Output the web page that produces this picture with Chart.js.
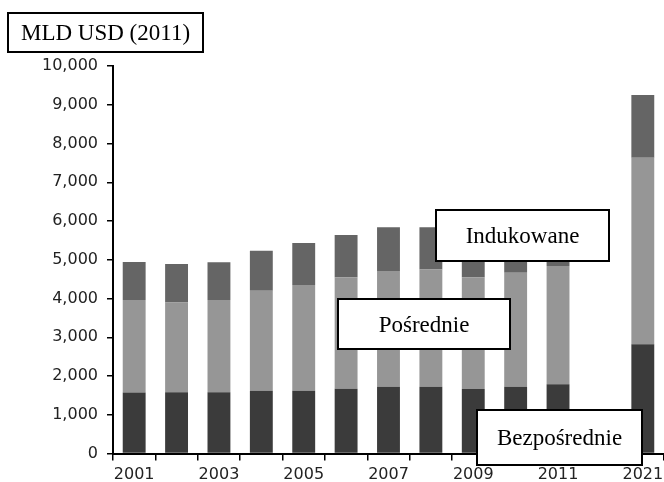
<!DOCTYPE html>
<html>
<head>
<meta charset="utf-8">
<script src="https://cdn.jsdelivr.net/npm/chart.js@4/dist/chart.umd.min.js"></script>
<style>
  body { margin: 0; background: #fff; }
  #wrap { width: 664px; height: 482px; }
</style>
</head>
<body>
<div id="wrap"><canvas id="mycanvas" width="664" height="482"></canvas></div>
<script>
// categories (one empty slot between 2011 and 2021)
var years = ['2001','2002','2003','2004','2005','2006','2007','2008','2009','2010','2011','','2021'];
var tickLabels = ['2001','','2003','','2005','','2007','','2009','','2011','','2021'];

// MLD USD (2011)
var bezposrednie = [1575, 1580, 1580, 1620, 1620, 1670, 1725, 1725, 1665, 1725, 1785, null, 2820];
var posrednie    = [2385, 2320, 2380, 2580, 2730, 2880, 2985, 3025, 2885, 2940, 3055, null, 4815];
var indukowane   = [ 980,  990,  975, 1035, 1080, 1090, 1130, 1090, 1100, 1135, 1160, null, 1615];

var colors = {
  dark: '#3b3b3b',
  mid: '#969696',
  top: '#656565'
};

// white boxes with serif text laid over the chart
var boxes = [
  { text: 'MLD USD (2011)', x: 8,   y: 13,  w: 195, h: 39 },
  { text: 'Indukowane',     x: 436, y: 210, w: 173, h: 51 },
  { text: 'Pośrednie',      x: 338, y: 299, w: 172, h: 50 },
  { text: 'Bezpośrednie',   x: 477, y: 410, w: 165, h: 55 }
];

var boxPlugin = {
  id: 'boxes',
  afterDraw: function (chart) {
    var ctx = chart.ctx;
    ctx.save();
    boxes.forEach(function (b) {
      ctx.fillStyle = '#fff';
      ctx.fillRect(b.x, b.y, b.w, b.h);
      ctx.strokeStyle = '#000';
      ctx.lineWidth = 2;
      ctx.strokeRect(b.x, b.y, b.w, b.h);
      ctx.fillStyle = '#000';
      ctx.font = '23px "Liberation Serif", "Times New Roman", serif';
      ctx.textAlign = 'center';
      ctx.textBaseline = 'alphabetic';
      ctx.fillText(b.text, b.x + b.w / 2, b.y + b.h / 2 + 7.5);
    });
    ctx.restore();
  }
};

var tickFont = { family: '"DejaVu Sans", sans-serif', size: 16 };

var ctx = document.getElementById('mycanvas').getContext('2d');
var myChart = new Chart(ctx, {
  type: 'bar',
  data: {
    labels: years,
    datasets: [
      { label: 'Bezpośrednie', data: bezposrednie, backgroundColor: colors.dark },
      { label: 'Pośrednie', data: posrednie, backgroundColor: colors.mid },
      { label: 'Indukowane', data: indukowane, backgroundColor: colors.top }
    ]
  },
  options: {
    responsive: false,
    animation: false,
    layout: { padding: { top: 66, left: 33, right: 0, bottom: 0 } },
    datasets: { bar: { categoryPercentage: 1, barPercentage: 0.54, borderWidth: 0 } },
    plugins: { legend: { display: false }, tooltip: { enabled: false } },
    scales: {
      x: {
        stacked: true,
        afterFit: function (s) { s.height = 28.5; s.paddingRight = 0; },
        grid: { offset: true, drawOnChartArea: false, tickLength: 7, color: '#000', lineWidth: 1.5 },
        border: { color: '#000', width: 2 },
        ticks: {
          autoSkip: false, maxRotation: 0, color: '#222', font: tickFont, padding: 5,
          callback: function (v, i) { return tickLabels[i]; }
        }
      },
      y: {
        stacked: true,
        min: 0,
        max: 10000,
        grid: { drawOnChartArea: false, tickLength: 6, color: '#000', lineWidth: 1.5 },
        border: { color: '#000', width: 2 },
        ticks: {
          stepSize: 1000, color: '#222', font: tickFont, padding: 9,
          callback: function (v) { return v.toLocaleString('en-US'); }
        }
      }
    }
  },
  plugins: [boxPlugin]
});
</script>
</body>
</html>
